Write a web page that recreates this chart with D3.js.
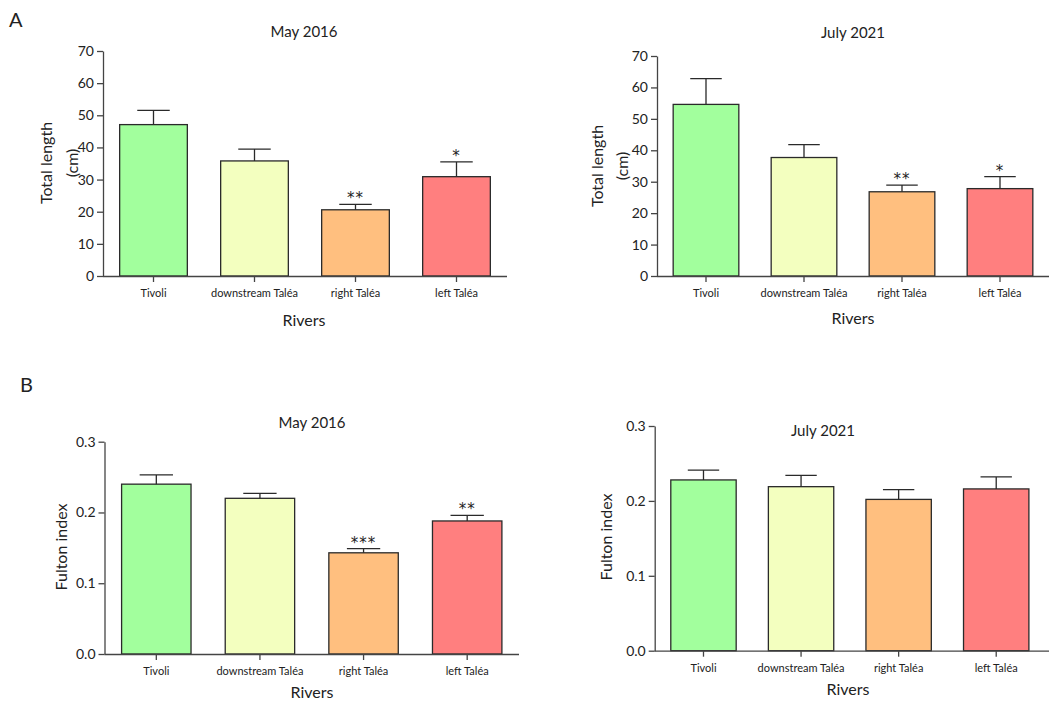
<!DOCTYPE html>
<html>
<head>
<meta charset="utf-8">
<script src="https://cdn.jsdelivr.net/npm/d3@7"></script>
<style>
  body { margin: 0; background: #fff; }
  text { font-family: Lato, "Open Sans", sans-serif; fill: #222; }
</style>
</head>
<body>
<svg id="chart" width="1049" height="702"></svg>
<script>
// rivers, shared by all four panels
const rivers = ["Tivoli", "downstream Taléa", "right Taléa", "left Taléa"];
const riverColors = ["#a2ff9d", "#f3ffbf", "#ffbf7f", "#ff7f7f"];

// A - total length (cm)
const lengthMay2016 = [47.1, 35.8, 20.6, 30.9];
const lengthMay2016Err = [4.4, 3.7, 1.7, 4.6];
const lengthMay2016Sig = ["", "", "**", "*"];
const lengthJuly2021 = [54.6, 37.7, 26.8, 27.8];
const lengthJuly2021Err = [8.2, 4.1, 2.1, 3.8];
const lengthJuly2021Sig = ["", "", "**", "*"];
const lengthTicks = [0, 10, 20, 30, 40, 50, 60, 70];

// B - Fulton index
const fultonMay2016 = [0.240, 0.220, 0.143, 0.188];
const fultonMay2016Err = [0.013, 0.007, 0.006, 0.008];
const fultonMay2016Sig = ["", "", "***", "**"];
const fultonJuly2021 = [0.228, 0.219, 0.202, 0.216];
const fultonJuly2021Err = [0.013, 0.015, 0.013, 0.016];
const fultonJuly2021Sig = ["", "", "", ""];
const fultonTicks = [0.0, 0.1, 0.2, 0.3];

const svg = d3.select("#chart");

function drawPanel(p) {
  let g = svg.append("g");

  let x = d3.scaleBand().domain(rivers).range([p.left, p.right])
      .paddingInner(0.33).paddingOuter(0.165);
  let y = d3.scaleLinear().domain([0, p.yMax]).range([p.bottom, p.top]);

  let data = rivers.map((r, i) => ({ river: r, v: p.values[i], e: p.errs[i], sig: p.sig[i], c: riverColors[i] }));

  // bars
  g.selectAll(".bar")
    .data(data)
    .enter().append("rect")
      .attr("class", "bar")
      .attr("x", d => x(d.river))
      .attr("y", d => y(d.v))
      .attr("width", x.bandwidth())
      .attr("height", d => y(0) - y(d.v))
      .attr("fill", d => d.c)
      .attr("stroke", "#2a2a2a")
      .attr("stroke-width", 1.3);

  // upper error bars
  let cx = d => x(d.river) + x.bandwidth() / 2;
  let cap = x.bandwidth() * 0.24;
  g.selectAll(".err")
    .data(data)
    .enter().append("path")
      .attr("class", "err")
      .attr("d", d => "M" + cx(d) + "," + y(d.v) + "V" + y(d.v + d.e) +
                      "M" + (cx(d) - cap) + "," + y(d.v + d.e) + "H" + (cx(d) + cap))
      .attr("fill", "none")
      .attr("stroke", "#2a2a2a")
      .attr("stroke-width", 1.3);

  // significance stars
  g.selectAll(".sig")
    .data(data)
    .enter().append("text")
      .attr("class", "sig")
      .attr("x", cx)
      .attr("y", d => y(d.v + d.e) - 1)
      .attr("text-anchor", "middle")
      .style("font-family", "'DejaVu Sans', sans-serif")
      .style("font-size", "15px")
      .style("letter-spacing", "1px")
      .text(d => d.sig);

  // axes
  let yAxis = g.append("g")
      .attr("transform", "translate(" + p.left + ",0)")
      .call(d3.axisLeft(y).tickValues(p.ticks).tickFormat(d3.format(p.fmt)).tickSize(6).tickSizeOuter(0));
  yAxis.selectAll("text").style("font-size", "14px").attr("fill", "#333");

  let xAxis = g.append("g")
      .attr("transform", "translate(0," + p.bottom + ")")
      .call(d3.axisBottom(x).tickSize(6).tickSizeOuter(0));
  xAxis.select(".domain").attr("d", "M" + p.left + ",0.5H" + p.axisEnd);
  xAxis.selectAll("text").style("font-size", "11px").attr("dy", "1.1em").attr("fill", "#333");

  g.selectAll(".domain, .tick line").attr("stroke", "#444").attr("stroke-width", 1.3);

  // labels
  g.append("text")
      .attr("x", p.titleX).attr("y", p.titleY)
      .attr("text-anchor", "middle")
      .style("font-size", "15px")
      .text(p.title);

  g.append("text")
      .attr("x", p.riversX).attr("y", p.riversY)
      .attr("text-anchor", "middle")
      .style("font-size", "16px")
      .text("Rivers");

  p.yLabel.forEach((t, i) => {
    g.append("text")
        .attr("transform", "translate(" + p.yLabelX[i] + "," + p.yLabelY + ") rotate(-90)")
        .attr("text-anchor", "middle")
        .attr("dy", "0.35em")
        .style("font-size", "16px")
        .text(t);
  });
}

drawPanel({
  values: lengthMay2016, errs: lengthMay2016Err, sig: lengthMay2016Sig,
  left: 103, right: 507, axisEnd: 507, top: 51, bottom: 276, yMax: 70, ticks: lengthTicks, fmt: "d",
  title: "May 2016", titleX: 304, titleY: 37,
  riversX: 304, riversY: 326,
  yLabel: ["Total length", "(cm)"], yLabelX: [46, 72], yLabelY: 163
});

drawPanel({
  values: lengthJuly2021, errs: lengthJuly2021Err, sig: lengthJuly2021Sig,
  left: 657, right: 1049, axisEnd: 1049, top: 56, bottom: 276, yMax: 70, ticks: lengthTicks, fmt: "d",
  title: "July 2021", titleX: 853, titleY: 38,
  riversX: 853, riversY: 324,
  yLabel: ["Total length", "(cm)"], yLabelX: [597, 622], yLabelY: 166
});

drawPanel({
  values: fultonMay2016, errs: fultonMay2016Err, sig: fultonMay2016Sig,
  left: 104.5, right: 519, axisEnd: 519, top: 441.7, bottom: 654, yMax: 0.3, ticks: fultonTicks, fmt: ".1f",
  title: "May 2016", titleX: 312, titleY: 428,
  riversX: 312, riversY: 698,
  yLabel: ["Fulton index"], yLabelX: [61], yLabelY: 547
});

drawPanel({
  values: fultonJuly2021, errs: fultonJuly2021Err, sig: fultonJuly2021Sig,
  left: 654.7, right: 1045, axisEnd: 1049, top: 426, bottom: 650.7, yMax: 0.3, ticks: fultonTicks, fmt: ".1f",
  title: "July 2021", titleX: 823, titleY: 436,
  riversX: 848, riversY: 695,
  yLabel: ["Fulton index"], yLabelX: [606], yLabelY: 537
});

// panel letters
svg.append("text").attr("x", 9).attr("y", 27).style("font-size", "20px").text("A");
svg.append("text").attr("x", 20).attr("y", 392).style("font-size", "20px").text("B");
</script>
</body>
</html>
